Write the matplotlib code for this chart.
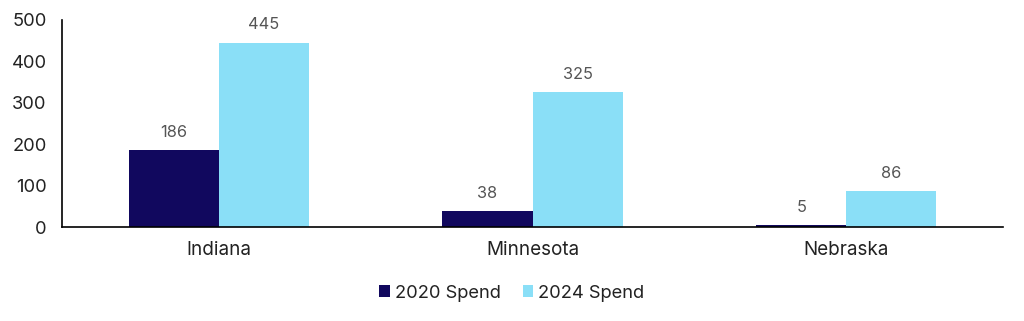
import matplotlib
matplotlib.use("Agg")
import matplotlib.pyplot as plt
import numpy as np

states = ["Indiana", "Minnesota", "Nebraska"]
spend_2020 = [186, 38, 5]
spend_2024 = [445, 325, 86]
series_names = ["2020 Spend", "2024 Spend"]
yticks = [0, 100, 200, 300, 400, 500]

plt.rcParams['font.family'] = ['Inter', 'DejaVu Sans']

fig = plt.figure(figsize=(10.24, 3.21), dpi=100)
ax = fig.add_axes([62/1024, 1-227/321, (1003-62)/1024, (227-20)/321])

x = np.arange(len(states))
w = 0.287
c1, c2 = "#11085E", "#8ADFF7"
b1 = ax.bar(x - w/2, spend_2020, w, color=c1, label=series_names[0])
b2 = ax.bar(x + w/2, spend_2024, w, color=c2, label=series_names[1])
for bars in (b1, b2):
    for r in bars:
        ax.annotate(f"{int(r.get_height())}", (r.get_x() + r.get_width()/2, r.get_height()),
                    xytext=(0, 7.5), textcoords="offset points", ha="center", va="bottom",
                    fontsize=11.8, color="#555555")

ax.set_xlim(-0.5, 2.5)
ax.set_ylim(0, 500)
ax.set_yticks(yticks)
ax.set_xticks(x)
ax.set_xticklabels(states)
ax.tick_params(axis="both", length=0, colors="#222222")
ax.tick_params(axis="x", pad=10, labelsize=13.6)
ax.tick_params(axis="y", pad=11, labelsize=13.2)
for s in ("top", "right"):
    ax.spines[s].set_visible(False)
for s in ("left", "bottom"):
    ax.spines[s].set_color("#000000")
    ax.spines[s].set_linewidth(1.2)

fig.legend(handles=[b1, b2], labels=series_names, loc="center", bbox_to_anchor=(0.5, 1-293/321),
           ncol=2, frameon=False, fontsize=13.2, handlelength=0.55, handleheight=0.55,
           handletextpad=0.3, columnspacing=1.2, labelcolor="#222222")

fig.savefig("out.png", dpi=100)
